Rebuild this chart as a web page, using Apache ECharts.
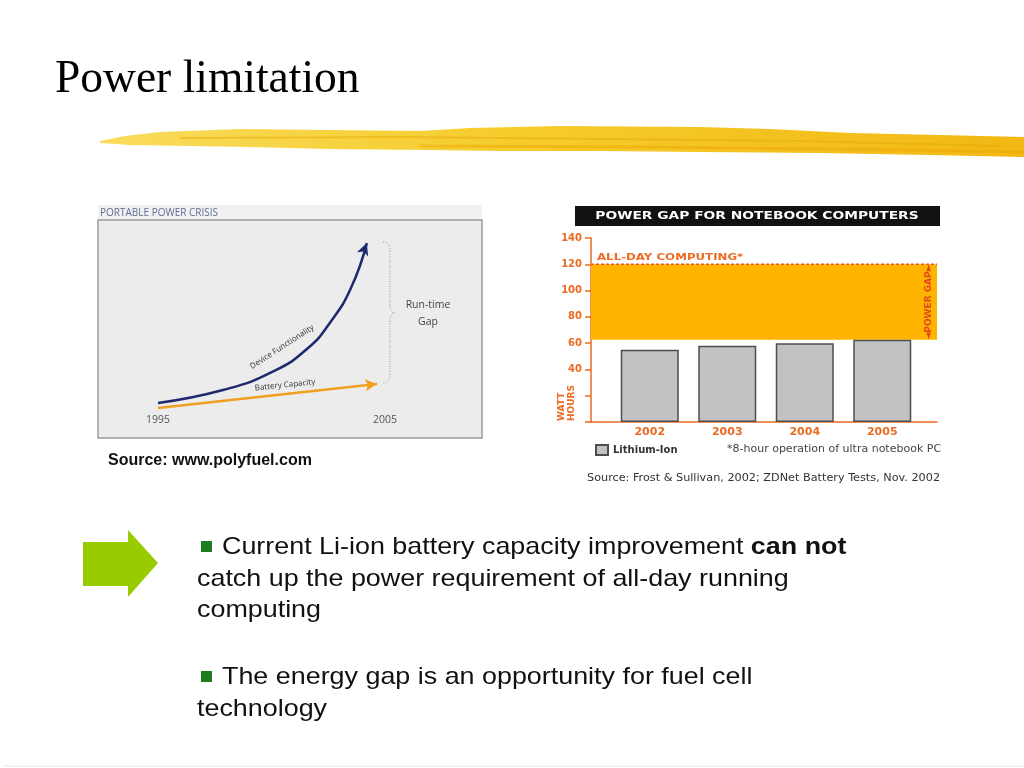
<!DOCTYPE html>
<html>
<head>
<meta charset="utf-8">
<script src="https://cdn.jsdelivr.net/npm/echarts@6/dist/echarts.min.js"></script>
<style>
html,body{margin:0;padding:0;background:#fff;}
#chart{width:1024px;height:768px;}
</style>
</head>
<body>
<div id="chart"></div>
<script>
// ---- Right chart: Power gap for notebook computers ----
const years = ['2002', '2003', '2004', '2005'];
const lithiumIon = [55, 58, 60, 62.5];
const allDayComputing = 120;
const gapFloor = 62.5;
const wattTicks = [0, 20, 40, 60, 80, 100, 120, 140];

// ---- Left chart: Portable power crisis (schematic) ----
const crisisYears = [1995, 2005];
const deviceFunctionality = [[1995, 16], [1997.9, 22], [2000.1, 30.5], [2001.6, 41], [2002.6, 53], [2003.5, 68.5], [2004.2, 89]];
const batteryCapacity = [[1995, 13.7], [2004.65, 24.7]];

const ORANGE = '#ec6a21';
const chart = echarts.init(document.getElementById('chart'));

function txt(x, y, text, font, fill, extra) {
  return Object.assign({
    type: 'text', x: x, y: y, silent: true, z: 20,
    style: Object.assign({text: text, font: font, fill: fill, textAlign: 'left', textVerticalAlign: 'middle'}, (extra && extra.style) || {})
  }, extra && extra.el || {});
}
const braceStyle = {fill: 'none', stroke: '#9a9a9a', lineWidth: 1, lineDash: [1, 1.5]};
function bez(x1, y1, cx, cy, x2, y2) {
  return {type: 'bezierCurve', silent: true, shape: {x1: x1, y1: y1, cpx1: cx, cpy1: cy, x2: x2, y2: y2}, style: braceStyle};
}
function seg(x1, y1, x2, y2) {
  return {type: 'line', silent: true, shape: {x1: x1, y1: y1, x2: x2, y2: y2}, style: braceStyle};
}
const BODY = '24px "Liberation Sans"';
const BODY_SX = 1.12;

const graphics = [
  // title
  txt(55, 80, 'Power limitation', '45.5px "Liberation Serif"', '#000'),
  // yellow brush stroke
  {type: 'polygon', silent: true, shape: {points: [[100,141],[125,136],[160,132],[240,129],[330,130],[420,131],[470,128],[560,126],[700,127],[770,129],[850,133],[940,135],[1024,137],[1024,157],[930,155],[820,153],[700,152],[600,151],[500,151],[430,150],[330,149],[250,147],[190,146],[130,145],[100,143]]},
   style: {fill: new echarts.graphic.LinearGradient(0, 0, 1, 0, [{offset: 0, color: '#f9dc5c'}, {offset: 0.45, color: '#f6cc2c'}, {offset: 1, color: '#f2b814'}])}},
  {type: 'polyline', silent: true, shape: {points: [[180,138],[400,137],[600,139],[800,141],[1000,146]]}, style: {stroke: 'rgba(230,170,10,0.5)', lineWidth: 2}},
  {type: 'polyline', silent: true, shape: {points: [[420,146],[650,147],[900,150],[1024,152]]}, style: {stroke: 'rgba(235,165,0,0.45)', lineWidth: 3}},

  // left panel
  {type: 'rect', silent: true, shape: {x: 98, y: 205, width: 384, height: 15}, style: {fill: '#f1f1f1'}, z: -1},
  {type: 'rect', silent: true, shape: {x: 98, y: 220, width: 384, height: 218}, style: {fill: '#ececec', stroke: '#9a9a9a', lineWidth: 1.5}, z: -1},
  txt(100, 213, 'PORTABLE POWER CRISIS', '10px "Open Sans"', '#5f6f92'),
  txt(282, 347, 'Device Functionality', '8px "Open Sans"', '#333', {el: {rotation: 33 * Math.PI / 180}, style: {textAlign: 'center'}}),
  txt(285, 385, 'Battery Capacity', '8px "Open Sans"', '#333', {el: {rotation: 6 * Math.PI / 180}, style: {textAlign: 'center'}}),
  bez(383, 242, 390, 242, 390, 251),
  seg(390, 251, 390, 305),
  bez(390, 305, 390, 313, 395, 313),
  bez(395, 313, 390, 313, 390, 321),
  seg(390, 321, 390, 374),
  bez(390, 374, 390, 383, 383, 383),
  txt(428, 305, 'Run-time', '10.5px "Open Sans"', '#444', {style: {textAlign: 'center'}}),
  txt(428, 322, 'Gap', '10.5px "Open Sans"', '#444', {style: {textAlign: 'center'}}),
  txt(108, 461, 'Source: www.polyfuel.com', 'bold 16px "Liberation Sans"', '#111'),

  // right chart decorations
  {type: 'rect', silent: true, shape: {x: 575, y: 206, width: 365, height: 20}, style: {fill: '#111'}},
  txt(757, 216, 'POWER GAP FOR NOTEBOOK COMPUTERS', 'bold 10px "DejaVu Sans"', '#fff', {el: {scaleX: 1.38}, style: {textAlign: 'center'}}),
  txt(597, 258, 'ALL-DAY COMPUTING*', 'bold 9px "DejaVu Sans"', ORANGE, {el: {scaleX: 1.31}}),
  txt(929, 302, '\u25C4POWER GAP\u25BA', 'bold 9px "DejaVu Sans"', '#e5481c', {el: {rotation: Math.PI / 2}, style: {textAlign: 'center'}}),
  txt(562, 421, 'WATT', 'bold 9px "DejaVu Sans"', ORANGE, {el: {rotation: Math.PI / 2}}),
  txt(572, 421, 'HOURS', 'bold 9px "DejaVu Sans"', ORANGE, {el: {rotation: Math.PI / 2}}),
  txt(727, 449, '*8-hour operation of ultra notebook PC', '10px "DejaVu Sans"', '#444', {el: {scaleX: 1.1}}),
  txt(587, 478, 'Source: Frost & Sullivan, 2002; ZDNet Battery Tests, Nov. 2002', '10.5px "DejaVu Sans"', '#333', {el: {scaleX: 1.07}}),

  // green arrow
  {type: 'polygon', silent: true, shape: {points: [[83,542],[128,542],[128,530],[158,563],[128,597],[128,586],[83,586]]}, style: {fill: '#99cc00'}},

  // bullets
  {type: 'rect', silent: true, shape: {x: 201, y: 541, width: 11, height: 11}, style: {fill: '#1e7d1e'}},
  {type: 'text', silent: true, x: 222, y: 547, scaleX: BODY_SX, z: 20, style: {text: '{n|Current Li-ion battery capacity improvement }{b|can not}', textVerticalAlign: 'middle', rich: {n: {font: BODY, fill: '#111'}, b: {font: 'bold ' + BODY, fill: '#111'}}}},
  txt(197, 579, 'catch up the power requirement of all-day running', BODY, '#111', {el: {scaleX: BODY_SX}}),
  txt(197, 610, 'computing', BODY, '#111', {el: {scaleX: BODY_SX}}),
  {type: 'rect', silent: true, shape: {x: 201, y: 671, width: 11, height: 11}, style: {fill: '#1e7d1e'}},
  txt(222, 677, 'The energy gap is an opportunity for fuel cell', BODY, '#111', {el: {scaleX: BODY_SX}}),
  txt(197, 709, 'technology', BODY, '#111', {el: {scaleX: BODY_SX}}),

  // bottom line
  seg(4, 766, 1024, 766)
];
graphics[graphics.length - 1].style = {stroke: '#e6e6e6', lineWidth: 1};

function arrowEnd(data, rot) {
  return data.map((p, i) => i === data.length - 1 ? {value: p, symbol: 'arrow', symbolSize: [9, 12], symbolRotate: rot} : {value: p, symbol: 'none'});
}

const option = {
  animation: false,
  grid: [
    {left: 158, top: 219, width: 227, height: 219},
    {left: 591, top: 238, width: 346, height: 184},
    {left: 611, top: 238, width: 310, height: 184}
  ],
  xAxis: [
    {gridIndex: 0, type: 'value', min: crisisYears[0], max: crisisYears[1], interval: crisisYears[1] - crisisYears[0], offset: -27,
     axisLine: {show: false}, axisTick: {show: false}, splitLine: {show: false},
     axisLabel: {color: '#555', fontSize: 10.5, fontFamily: 'Open Sans', margin: 4, formatter: v => String(v)}},
    {gridIndex: 1, type: 'value', min: 0, max: 1, axisLine: {show: true, onZero: false, lineStyle: {color: ORANGE, width: 1.5}},
     axisTick: {show: false}, axisLabel: {show: false}, splitLine: {show: false}},
    {gridIndex: 2, type: 'category', data: years, axisLine: {show: false}, axisTick: {show: false},
     axisLabel: {color: ORANGE, fontWeight: 'bold', fontSize: 11, fontFamily: 'DejaVu Sans', margin: 5}}
  ],
  yAxis: [
    {gridIndex: 0, type: 'value', min: 0, max: 100, show: false},
    {gridIndex: 1, type: 'value', min: wattTicks[0], max: wattTicks[wattTicks.length - 1], interval: wattTicks[1] - wattTicks[0],
     axisLine: {show: true, lineStyle: {color: ORANGE, width: 1.5}},
     axisTick: {show: true, length: 6, lineStyle: {color: ORANGE, width: 1.5}},
     splitLine: {show: false},
     axisLabel: {color: ORANGE, fontWeight: 'bold', fontSize: 10, fontFamily: 'DejaVu Sans', margin: 9, formatter: v => v >= 40 ? String(v) : ''}},
    {gridIndex: 2, type: 'value', min: wattTicks[0], max: wattTicks[wattTicks.length - 1], show: false}
  ],
  legend: {
    left: 595, top: 444, padding: 0, itemWidth: 12, itemHeight: 10, itemGap: 5, icon: 'rect',
    data: ['Lithium-Ion'],
    textStyle: {color: '#333', fontWeight: 'bold', fontSize: 10, fontFamily: 'DejaVu Sans'}
  },
  series: [
    {type: 'line', name: 'Device Functionality', xAxisIndex: 0, yAxisIndex: 0, smooth: true, symbol: 'none',
     data: arrowEnd(deviceFunctionality, -21), lineStyle: {color: '#1f2a6e', width: 2.5}, itemStyle: {color: '#1f2a6e'}, z: 5},
    {type: 'line', name: 'Battery Capacity', xAxisIndex: 0, yAxisIndex: 0, symbol: 'none',
     data: arrowEnd(batteryCapacity, -84), lineStyle: {color: '#f0a020', width: 2.5}, itemStyle: {color: '#f0a020'}, z: 5},
    {type: 'line', name: 'All-day computing', xAxisIndex: 1, yAxisIndex: 1, symbol: 'none', z: 1,
     data: [[0, allDayComputing], [1, allDayComputing]],
     lineStyle: {color: '#e5581c', width: 1.5, type: [3, 2]},
     markArea: {silent: true, itemStyle: {color: '#ffb400'}, data: [[{yAxis: gapFloor}, {yAxis: allDayComputing}]]}},
    {type: 'bar', name: 'Lithium-Ion', xAxisIndex: 2, yAxisIndex: 2, data: lithiumIon, barWidth: 58, z: 3,
     itemStyle: {color: '#c2c2c2', borderColor: '#4d4d4d', borderWidth: 1.5}}
  ],
  graphic: graphics
};
chart.setOption(option);
</script>
</body>
</html>
